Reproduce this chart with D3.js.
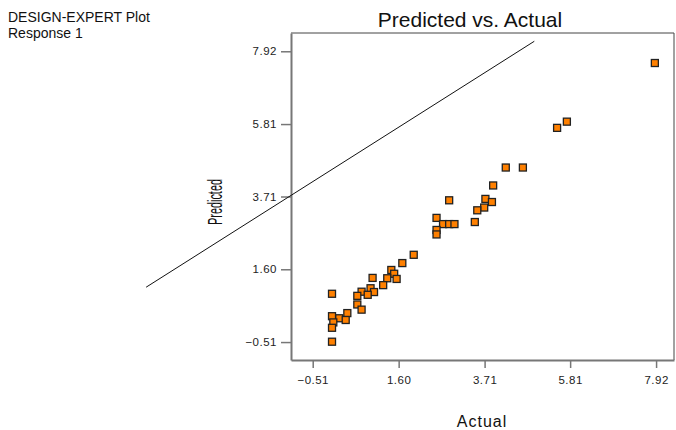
<!DOCTYPE html>
<html>
<head>
<meta charset="utf-8">
<script src="https://cdn.jsdelivr.net/npm/d3@7"></script>
<style>
  body { margin: 0; background: #fff; }
  text { font-family: "Liberation Sans", Arial, sans-serif; }
</style>
</head>
<body>
<div id="chart"></div>
<script>
// actual vs predicted values
const actual = [7.89, 5.73, 5.49, 4.23, 4.65, 3.92, 2.84, 3.73, 3.89, 3.70, 3.53, 3.47,
    2.53, 2.69, 2.84, 2.97, 2.53, 2.53, 1.97, 1.69, 1.42, 1.49, 1.32, 1.55, 0.96, 1.22,
    0.91, 0.995, 0.69, 0.84, 0.585, -0.036, 0.585, 0.69, 0.34, 0.14, 0.30, -0.036, -0.004,
    -0.036, -0.036];
const predicted = [7.58, 5.88, 5.70, 4.55, 4.55, 4.03, 3.60, 3.64, 3.55, 3.39, 3.31, 2.97,
    3.09, 2.91, 2.91, 2.91, 2.74, 2.61, 2.02, 1.78, 1.58, 1.47, 1.34, 1.32, 1.35, 1.14,
    1.05, 0.94, 0.95, 0.86, 0.83, 0.89, 0.58, 0.43, 0.33, 0.18, 0.13, 0.24, 0.06,
    -0.096, -0.50];
const tickVals = [-0.51, 1.60, 3.71, 5.81, 7.92];
// the reference line as drawn (endpoints in data units)
const lineX = [-4.60, 4.93];
const lineY = [1.08, 8.21];

const width = 676, height = 430;
const frame = { left: 291, top: 33, right: 674, bottom: 360 };

const svg = d3.select('#chart').append('svg')
    .attr('width', width)
    .attr('height', height);

let xScale = d3.scaleLinear()
    .domain([-1.043, 8.36])
    .range([frame.left, frame.right]);

let yScale = d3.scaleLinear()
    .domain([-1.03, 8.45])
    .range([frame.bottom, frame.top]);

// frame
svg.append('path')
    .attr('d', `M${frame.left},${frame.top}H${frame.right}V${frame.bottom}`)
    .attr('fill', 'none')
    .attr('stroke', '#444')
    .attr('stroke-width', 1);

// axes
let yAxisGenerator = d3.axisLeft(yScale)
    .tickValues(tickVals)
    .tickSize(10)
    .tickSizeOuter(0)
    .tickPadding(4)
    .tickFormat(d3.format('.2f'));

let yAxis = svg.append('g')
    .attr('transform', `translate(${frame.left},0)`)
    .call(yAxisGenerator);

let xAxisGenerator = d3.axisBottom(xScale)
    .tickValues(tickVals)
    .tickSize(8)
    .tickSizeOuter(0)
    .tickPadding(8)
    .tickFormat(d3.format('.2f'));

let xAxis = svg.append('g')
    .attr('transform', `translate(0,${frame.bottom})`)
    .call(xAxisGenerator);

[xAxis, yAxis].forEach(ax => {
    ax.select('.domain').attr('stroke', '#777').attr('stroke-width', 2);
    ax.selectAll('.tick line').attr('stroke', '#777').attr('stroke-width', 1.5);
    ax.selectAll('.tick text')
        .attr('fill', '#222')
        .style('font-size', '11.5px')
        .style('letter-spacing', '0.5px');
});

// reference line (not clipped)
svg.append('line')
    .attr('x1', xScale(lineX[0])).attr('y1', yScale(lineY[0]))
    .attr('x2', xScale(lineX[1])).attr('y2', yScale(lineY[1]))
    .attr('stroke', '#111')
    .attr('stroke-width', 1);

// points
svg.append('g').selectAll('rect')
    .data(actual)
    .join('rect')
    .attr('x', (d, i) => xScale(d) - 3.5)
    .attr('y', (d, i) => yScale(predicted[i]) - 3.5)
    .attr('width', 7)
    .attr('height', 7)
    .attr('fill', '#ff8000')
    .attr('stroke', '#222')
    .attr('stroke-width', 1.3);

// texts
svg.append('text')
    .attr('x', 8).attr('y', 22)
    .text('DESIGN-EXPERT Plot')
    .style('font-size', '14px')
    .attr('fill', '#111');

svg.append('text')
    .attr('x', 8).attr('y', 38)
    .text('Response 1')
    .style('font-size', '14px')
    .attr('fill', '#111');

svg.append('text')
    .attr('x', 470).attr('y', 27)
    .attr('text-anchor', 'middle')
    .text('Predicted vs. Actual')
    .style('font-size', '21px')
    .attr('fill', '#111');

svg.append('text')
    .attr('x', 482).attr('y', 427)
    .attr('text-anchor', 'middle')
    .text('Actual')
    .style('font-size', '16px')
    .style('letter-spacing', '1px')
    .attr('fill', '#111');

svg.append('text')
    .attr('transform', 'translate(222,202) rotate(-90)')
    .attr('text-anchor', 'middle')
    .attr('textLength', 46)
    .attr('lengthAdjust', 'spacingAndGlyphs')
    .text('Predicted')
    .style('font-size', '21px')
    .attr('fill', '#111');
</script>
</body>
</html>
